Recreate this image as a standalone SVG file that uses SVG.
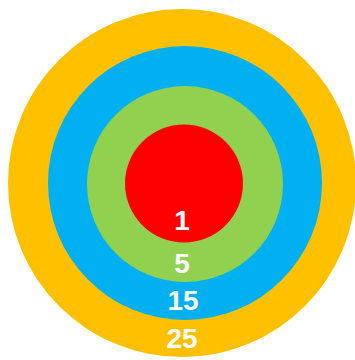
<svg xmlns="http://www.w3.org/2000/svg" width="355" height="360" viewBox="0 0 355 360">
<style>
text{font-family:"Liberation Sans",Arial,sans-serif;font-weight:bold;font-size:28px;fill:#fff;text-anchor:middle}
</style>
<rect width="355" height="360" fill="#fff"/>
<g id="ring25"><circle cx="182" cy="183" r="174" fill="#FFC000"/><text x="182" y="348">25</text></g>
<g id="ring15"><circle cx="185" cy="183" r="137" fill="#00B0F0"/><text x="183" y="310">15</text></g>
<g id="ring5"><circle cx="185" cy="184" r="98" fill="#92D050"/><text x="182" y="273">5</text></g>
<g id="ring1"><circle cx="184" cy="183.5" r="59" fill="#FF0000"/><text x="182" y="230">1</text></g>
</svg>
